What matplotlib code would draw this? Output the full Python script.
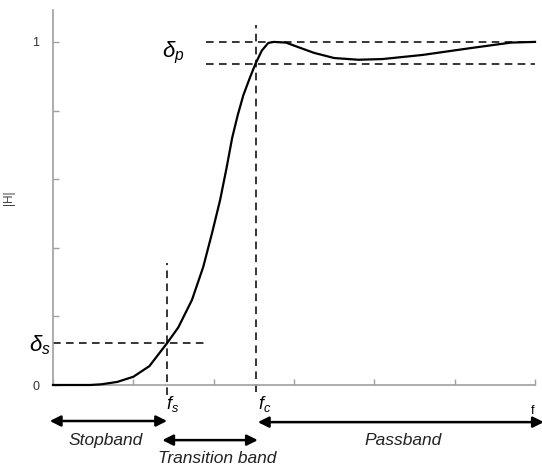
import matplotlib
matplotlib.use("Agg")
import matplotlib.pyplot as plt

plt.rcParams['font.family'] = ['Liberation Sans', 'DejaVu Sans']
plt.rcParams['mathtext.fontset'] = 'custom'
plt.rcParams['mathtext.it'] = 'Liberation Sans:italic'
plt.rcParams['mathtext.rm'] = 'Liberation Sans'

# Frequency response curve
freq = [0, 0.46, 0.6, 0.8, 1.0, 1.2, 1.42, 1.56, 1.73, 1.87, 1.98, 2.08, 2.16, 2.23, 2.3, 2.37,
        2.45, 2.52, 2.6, 2.68, 2.75, 2.9, 3.05, 3.25, 3.5, 3.8, 4.1, 4.6, 5.2, 5.7, 6.0]
mag = [0, 0, 0.002, 0.009, 0.024, 0.055, 0.122, 0.168, 0.248, 0.344, 0.443, 0.539, 0.632, 0.72, 0.787, 0.845,
       0.895, 0.936, 0.975, 0.997, 1.0, 0.998, 0.985, 0.968, 0.953, 0.948, 0.95, 0.962, 0.982, 0.998, 1.0]

f_s = 1.42
f_c = 2.53
delta_s = 0.122
delta_p_low = 0.936
delta_p_high = 1.0

yticks = [0, 0.2, 0.4, 0.6, 0.8, 1.0]
ytick_labels = ['0', '', '', '', '', '1']
xticks = [0, 1, 2, 3, 4, 5, 6]

fig = plt.figure(figsize=(5.42, 4.66), dpi=100)
ax = fig.add_axes([53/542, 1-385/466, (535-53)/542, 375/466])
ax.set_xlim(0, 6)
ax.set_ylim(0, 1.093)

for s in ['top', 'right']:
    ax.spines[s].set_visible(False)
for s in ['left', 'bottom']:
    ax.spines[s].set_color('#a0a0a0')
    ax.spines[s].set_linewidth(1.2)

ax.set_yticks(yticks)
ax.set_yticklabels(ytick_labels)
ax.set_xticks(xticks)
ax.set_xticklabels([])
ax.tick_params(direction='in', length=4, color='#a0a0a0', width=1, labelsize=9, labelcolor='#333333', pad=10)
ax.set_ylabel('|H|', fontsize=8.5, color='#444444')
ax.yaxis.set_label_coords(-0.079, 0.5)

ax.plot(freq, mag, color='black', lw=1.6, clip_on=False, zorder=3)

dash = dict(color='black', lw=1.1, linestyle=(0, (5, 3.5)), clip_on=False)
ax.plot([1.9, 6.0], [delta_p_high, delta_p_high], **dash)
ax.plot([1.9, 6.0], [delta_p_low, delta_p_low], **dash)
ax.plot([0, 1.92], [delta_s, delta_s], **dash)
ax.plot([f_s, f_s], [-0.03, 0.356], **dash)
ax.plot([f_c, f_c], [-0.02, 1.05], **dash)

ax.text(1.5, 0.968, r'$\delta_p$', fontsize=16, ha='center', va='center')
ax.text(-0.16, 0.115, r'$\delta_s$', fontsize=16, ha='center', va='center')

ax.text(f_s + 0.07, -0.055, r'$f_s$', fontsize=13, ha='center', va='center')
ax.text(f_c + 0.1, -0.055, r'$f_c$', fontsize=13, ha='center', va='center')
ax.text(5.97, -0.075, 'f', fontsize=9, ha='center', va='center')

coords = ('data', 'axes fraction')
arrowprops = dict(arrowstyle='<|-|>', color='black', lw=1.8, mutation_scale=16, shrinkA=0, shrinkB=0)
ax.annotate('', xy=(-0.04, -0.096), xytext=(1.42, -0.096), xycoords=coords, textcoords=coords,
            arrowprops=arrowprops, annotation_clip=False)
ax.annotate('', xy=(1.36, -0.147), xytext=(2.55, -0.147), xycoords=coords, textcoords=coords,
            arrowprops=arrowprops, annotation_clip=False)
ax.annotate('', xy=(2.55, -0.099), xytext=(6.11, -0.099), xycoords=coords, textcoords=coords,
            arrowprops=arrowprops, annotation_clip=False)

ax.text(0.65, -0.147, 'Stopband', transform=ax.get_xaxis_transform(), fontsize=12.5,
        style='italic', ha='center', va='center', color='#222222')
ax.text(2.04, -0.195, 'Transition band', transform=ax.get_xaxis_transform(), fontsize=12.5,
        style='italic', ha='center', va='center', color='#222222')
ax.text(4.36, -0.147, 'Passband', transform=ax.get_xaxis_transform(), fontsize=12.5,
        style='italic', ha='center', va='center', color='#222222')

fig.savefig('out.png', dpi=100)
